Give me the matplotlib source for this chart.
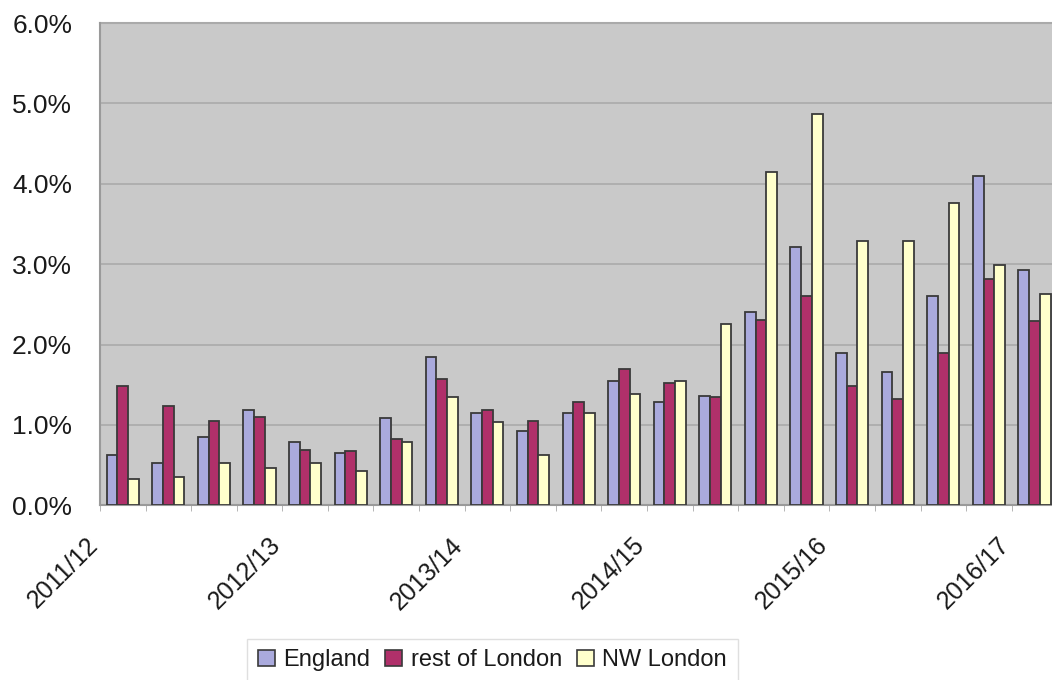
import numpy as np
import matplotlib.pyplot as plt
import matplotlib.transforms as mtransforms
from matplotlib.ticker import FuncFormatter, FixedLocator

plt.rcParams['font.family'] = ['Liberation Sans', 'DejaVu Sans']

# quarterly rates, 2011/12 Q1 .. 2016/17 Q1
SERIES = ['England', 'rest of London', 'NW London']
england = [0.62, 0.52, 0.85, 1.18, 0.79, 0.65, 1.09, 1.85, 1.15, 0.92, 1.15,
           1.55, 1.29, 1.36, 2.41, 3.21, 1.89, 1.66, 2.61, 4.10, 2.93]
rest_of_london = [1.48, 1.23, 1.05, 1.10, 0.69, 0.67, 0.82, 1.57, 1.18, 1.05, 1.29,
                  1.69, 1.52, 1.35, 2.31, 2.61, 1.48, 1.32, 1.89, 2.82, 2.29]
nw_london = [0.33, 0.35, 0.52, 0.46, 0.52, 0.42, 0.79, 1.35, 1.03, 0.62, 1.15,
             1.39, 1.54, 2.26, 4.15, 4.87, 3.29, 3.29, 3.76, 2.99, 2.63]
year_labels = ['2011/12', '2012/13', '2013/14', '2014/15', '2015/16', '2016/17']
label_every = 4

colors = ['#aaaadd', '#b0306a', '#ffffcc']

fig = plt.figure(figsize=(10.52, 6.8), dpi=100)
ax = fig.add_axes([0.095, 0.257, 0.91, 0.709])
ax.set_facecolor('#c9c9c9')

n = len(england)
x = np.arange(n)
width = 0.235
for i, (vals, c, name) in enumerate(zip([england, rest_of_london, nw_london], colors, SERIES)):
    ax.bar(x + (i - 1) * width, vals, width, color=c, edgecolor='#3a3a3a',
           linewidth=1.3, label=name, zorder=3)

ax.set_xlim(-0.5, n - 0.5)
ax.set_ylim(0, 6)
ax.set_yticks(np.arange(0, 7, 1))
ax.yaxis.set_major_formatter(FuncFormatter(lambda v, p: f'{v:.1f}%'))
ax.grid(axis='y', color='#aaaaaa', linewidth=1.2, zorder=0)

ax.set_xticks(x[::label_every])
ax.set_xticklabels(year_labels, rotation=45, ha='right')
ax.tick_params(axis='x', length=0, labelsize=18, pad=20)
shift = mtransforms.ScaledTranslation(-20 / 100, 0, fig.dpi_scale_trans)
for lbl in ax.get_xticklabels():
    lbl.set_transform(lbl.get_transform() + shift)
ax.xaxis.set_minor_locator(FixedLocator(np.arange(-0.5, n, 1)))
ax.tick_params(axis='x', which='minor', length=4, color='#aaaaaa')
ax.tick_params(axis='y', length=0, labelsize=19, pad=20, labelcolor='#1a1a1a')
ax.tick_params(axis='x', labelcolor='#1a1a1a')

for side in ['top', 'right']:
    ax.spines[side].set_visible(False)
ax.spines['left'].set_color('#9a9a9a')
ax.spines['left'].set_linewidth(1.5)
ax.spines['bottom'].set_color('#9a9a9a')
ax.spines['bottom'].set_linewidth(1.5)
ax.axhline(6, color='#aaaaaa', linewidth=1.5, zorder=1, clip_on=False)

leg = fig.legend(loc='lower center', bbox_to_anchor=(0.468, -0.02), ncol=3,
                 fontsize=17, frameon=True, fancybox=False, edgecolor='#d8d8d8',
                 handlelength=0.72, handleheight=0.72, handletextpad=0.35,
                 columnspacing=0.65, borderpad=0.45)
for h in leg.legend_handles:
    h.set_linewidth(1.2)
for t in leg.get_texts():
    t.set_color('#1a1a1a')

fig.savefig('out.png', dpi=100)
